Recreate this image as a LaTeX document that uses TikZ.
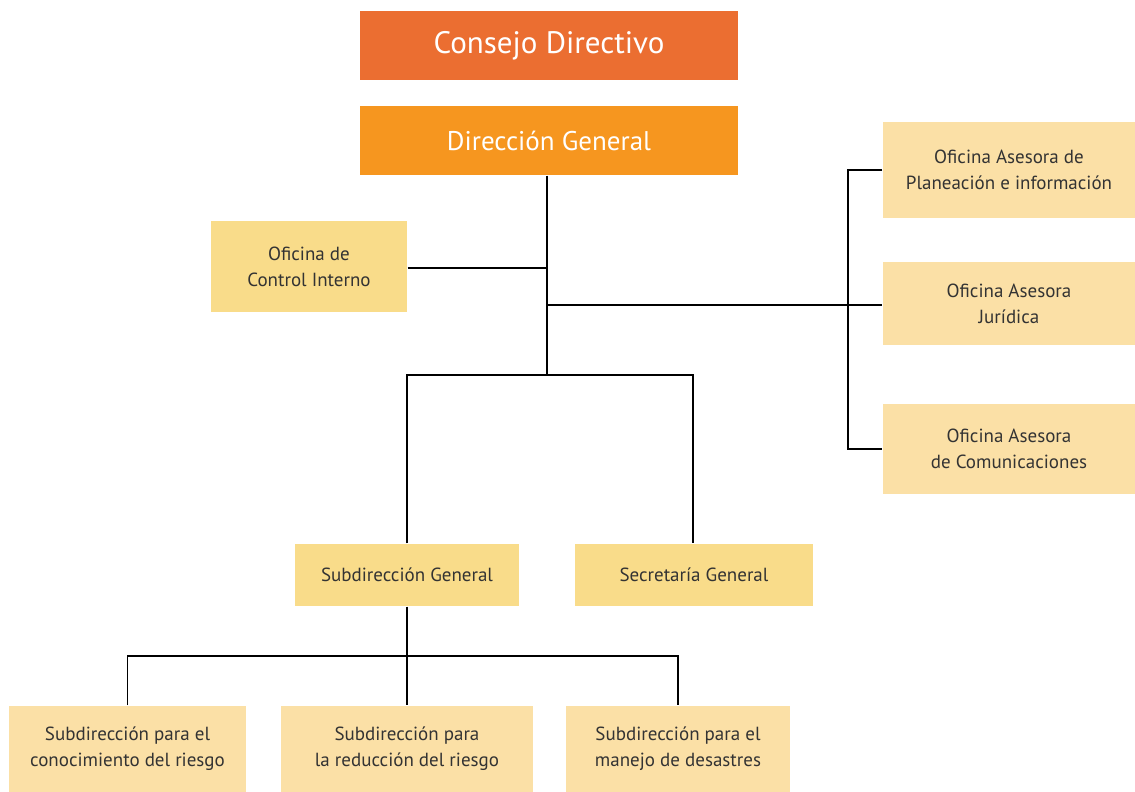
\documentclass[tikz,border=0pt]{standalone}
\usepackage{fontspec}
\setmainfont{PT Sans}
\usepackage{xcolor}
\usetikzlibrary{positioning}
\definecolor{consejo}{HTML}{EB6E31}
\definecolor{direccion}{HTML}{F6961F}
\definecolor{ofiyellow}{HTML}{F9DC8A}
\definecolor{ofibeige}{HTML}{FBE0A6}

\begin{document}
\begin{tikzpicture}[x=1pt, y=-1pt, semithick, line width=1.2pt,
    top/.style={fill=#1, text=white, minimum width=378pt, minimum height=69pt,
      inner sep=0pt, font=\fontsize{27}{32}\selectfont},
    unit/.style={fill=#1, align=center, inner sep=0pt, text=black!80,
      font=\fontsize{19}{26}\selectfont}]
  \useasboundingbox (0,0) rectangle (1135,792);
  % cabeza
  \node[top=consejo, font=\fontsize{31}{36}\selectfont] (consejo) at (549,45.5) {Consejo Directivo};
  \node[top=direccion] (dg) at (549,140.5) {Dirección General};
  % oficinas
  \node[unit=ofiyellow, minimum width=196pt, minimum height=91pt] (control) at (309,266.5) {Oficina de\\Control Interno};
  \node[unit=ofibeige, minimum width=252pt, minimum height=96pt] (planea) at (1009,170) {Oficina Asesora de\\Planeación e información};
  \node[unit=ofibeige, minimum width=252pt, minimum height=83pt] (juridica) at (1009,303.5) {Oficina Asesora\\Jurídica};
  \node[unit=ofibeige, minimum width=252pt, minimum height=90pt] (comunica) at (1009,449) {Oficina Asesora\\de Comunicaciones};
  % subdirecciones
  \node[unit=ofiyellow, minimum width=224pt, minimum height=62pt] (subgen) at (407,575) {Subdirección General};
  \node[unit=ofiyellow, minimum width=238pt, minimum height=62pt] (secgen) at (694,575) {Secretaría General};
  \node[unit=ofibeige, minimum width=237pt, minimum height=86pt] (conoc) at (127.5,749) {Subdirección para el\\conocimiento del riesgo};
  \node[unit=ofibeige, minimum width=252pt, minimum height=86pt] (reduc) at (407,749) {Subdirección para\\la reducción del riesgo};
  \node[unit=ofibeige, minimum width=224pt, minimum height=86pt] (manejo) at (678,749) {Subdirección para el\\manejo de desastres};
  % puntos de union
  \coordinate (trunk) at (547,375);
  \coordinate (ctl) at (547,268);
  \coordinate (ase) at (547,305);
  \coordinate (rail) at (848,305);
  \coordinate (sub) at (407,656);
  % lineas
  \draw (dg.south -| trunk) -- (trunk);
  \draw (control.east |- ctl) -- (ctl);
  \draw (ase) -- (juridica.west |- ase);
  \draw (planea.west) -- (planea.west -| rail) -- (comunica.west -| rail) -- (comunica.west);
  \draw (subgen.north) |- (trunk) -| (secgen.north -| 693,0);
  \draw (subgen.south) -- (reduc.north);
  \draw (conoc.north) |- (sub) -| (manejo.north);
\end{tikzpicture}
\end{document}
